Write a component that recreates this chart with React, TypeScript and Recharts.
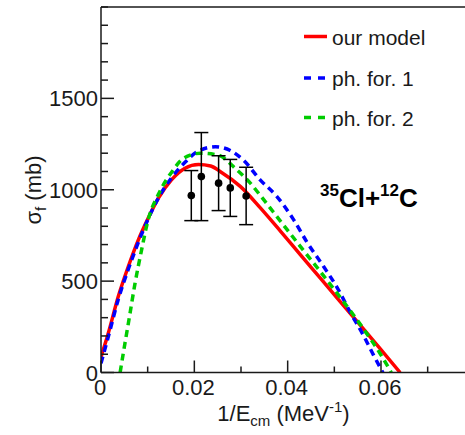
import React from 'react';
import { ComposedChart, Line, Scatter, XAxis, YAxis, ErrorBar, ReferenceLine } from 'recharts';

// ---- data ----
const modelX = [0, 0.00156, 0.0037, 0.00585, 0.008, 0.0101, 0.0123, 0.0151, 0.018, 0.0209, 0.0235, 0.0256, 0.0299, 0.0341, 0.0384, 0.0427, 0.047, 0.0513, 0.0556, 0.0599, 0.0641];
const modelY = [85, 215, 416, 580, 726, 844, 954, 1054, 1118, 1138, 1130, 1099, 1017, 902, 775, 645, 516, 387, 258, 128, 0];

const ph1X = [0, 0.00156, 0.0037, 0.00585, 0.008, 0.0101, 0.0123, 0.0151, 0.018, 0.0209, 0.0245, 0.0277, 0.0306, 0.0341, 0.0377, 0.0413, 0.0441, 0.0477, 0.0506, 0.0534, 0.0563, 0.0584, 0.0604];
const ph1Y = [50, 195, 400, 565, 712, 840, 955, 1065, 1150, 1212, 1235, 1215, 1160, 1054, 963, 835, 715, 580, 465, 330, 200, 95, 0];

const ph2X = [0.0041, 0.005, 0.006, 0.0073, 0.0087, 0.0101, 0.0123, 0.0151, 0.0177, 0.0213, 0.0249, 0.0291, 0.032, 0.0341, 0.0384, 0.0427, 0.047, 0.0513, 0.0556, 0.0599, 0.0622];
const ph2Y = [0, 140, 290, 489, 671, 835, 975, 1095, 1172, 1200, 1191, 1109, 1036, 970, 830, 690, 552, 410, 262, 100, 0];

const expX = [0.01935, 0.0215, 0.0252, 0.0277, 0.0311];
const expY = [968, 1072, 1036, 1010, 966];
const expErr = [137, 241, 150, 156, 157];

const xTicks = [0, 0.01, 0.02, 0.03, 0.04, 0.05, 0.06, 0.07];
const xTickLabels = ['0', '', '0.02', '', '0.04', '', '0.06', ''];
const yTicks = [0, 100, 200, 300, 400, 500, 600, 700, 800, 900, 1000, 1100, 1200, 1300, 1400, 1500, 1600, 1700, 1800, 1900, 2000];
const yTickLabels = ['0', '', '', '', '', '500', '', '', '', '', '1000', '', '', '', '', '1500', '', '', '', '', ''];

const legendItems = ['our model', 'ph. for. 1', 'ph. for. 2'];

const modelData = modelX.map((x, i) => ({ x, y: modelY[i] }));
const ph1Data = ph1X.map((x, i) => ({ x, y: ph1Y[i] }));
const ph2Data = ph2X.map((x, i) => ({ x, y: ph2Y[i] }));
const expData = expX.map((x, i) => ({ x, y: expY[i], err: expErr[i] }));

const FONT = '"Liberation Sans", Arial, Helvetica, sans-serif';
const INK = '#1a1a1a';

const XTick = (props: any) => {
  const { x, y, payload } = props;
  const idx = xTicks.findIndex((t) => Math.abs(t - payload.value) < 1e-9);
  const label = idx >= 0 ? xTickLabels[idx] : '';
  const major = label !== '';
  return (
    <g>
      <line x1={x} x2={x} y1={y} y2={y - (major ? 12 : 6)} stroke={INK} strokeWidth={1.5} />
      {major && (
        <text x={x - 1} y={y + 22} textAnchor="middle" fontSize={22} fontFamily={FONT} fill={INK}>
          {label}
        </text>
      )}
    </g>
  );
};

const YTick = (props: any) => {
  const { x, y, payload } = props;
  const idx = yTicks.findIndex((t) => Math.abs(t - payload.value) < 1e-9);
  const label = idx >= 0 ? yTickLabels[idx] : '';
  const major = label !== '';
  return (
    <g>
      <line x1={x} x2={x + (major ? 13 : 7)} y1={y} y2={y} stroke={INK} strokeWidth={1.5} />
      {major && (
        <text x={x - 3} y={y + 8} textAnchor="end" fontSize={22} fontFamily={FONT} fill={INK}>
          {label}
        </text>
      )}
    </g>
  );
};

const Dot = (p: any) => <circle cx={p.cx} cy={p.cy} r={3.8} fill="#000" />;

export default function App() {
  const colors = ['#ff0000', '#0000ff', '#00cc00'];
  const rowY = [36.5, 78, 117.5];
  return (
    <div style={{ position: 'absolute', left: 0, top: 0, width: 465, height: 435, background: '#fff', overflow: 'hidden' }}>
      <ComposedChart width={465} height={435} margin={{ top: 7, right: 0, bottom: 0, left: 0 }}>
        <XAxis
          type="number"
          dataKey="x"
          domain={[0, 0.078]}
          allowDataOverflow
          ticks={xTicks}
          interval={0}
          height={62.5}
          tickSize={0}
          tickMargin={0}
          tickLine={false}
          tick={<XTick />}
          axisLine={{ stroke: INK, strokeWidth: 1.5 }}
        />
        <YAxis
          type="number"
          dataKey="y"
          domain={[0, 2000]}
          allowDataOverflow
          ticks={yTicks}
          interval={0}
          width={101}
          tickSize={0}
          tickMargin={0}
          tickLine={false}
          tick={<YTick />}
          axisLine={{ stroke: INK, strokeWidth: 1.5 }}
        />
        <ReferenceLine y={2000} stroke={INK} strokeWidth={1.5} />
        <Line data={modelData} dataKey="y" type="monotone" stroke={colors[0]} strokeWidth={3.5} dot={false} activeDot={false} isAnimationActive={false} />
        <Line data={ph1Data} dataKey="y" type="monotone" stroke={colors[1]} strokeWidth={3.5} strokeDasharray="7 5" dot={false} activeDot={false} isAnimationActive={false} />
        <Line data={ph2Data} dataKey="y" type="monotone" stroke={colors[2]} strokeWidth={3.5} strokeDasharray="7 5" dot={false} activeDot={false} isAnimationActive={false} />
        <Scatter data={expData} dataKey="y" shape={<Dot />} isAnimationActive={false}>
          <ErrorBar dataKey="err" direction="y" width={7} stroke="#000" strokeWidth={1.5} />
        </Scatter>
      </ComposedChart>
      <svg width={465} height={435} style={{ position: 'absolute', left: 0, top: 0, pointerEvents: 'none' }} fontFamily={FONT}>
        {legendItems.map((name, i) => (
          <g key={name}>
            <line
              x1={304}
              x2={327}
              y1={rowY[i]}
              y2={rowY[i]}
              stroke={colors[i]}
              strokeWidth={3.5}
              strokeDasharray={i === 0 ? undefined : '7 7'}
            />
            <text x={332} y={rowY[i] + 8} fontSize={21} fill={INK}>
              {name}
            </text>
          </g>
        ))}
        <text x={320} y={207} fontSize={26} fontWeight="bold" fill="#000">
          <tspan fontSize={17} dy={-11}>35</tspan>
          <tspan dy={11}>Cl+</tspan>
          <tspan fontSize={17} dy={-11}>12</tspan>
          <tspan dy={11}>C</tspan>
        </text>
        <text x={283.5} y={421} textAnchor="middle" fontSize={22} fill={INK}>
          1/E<tspan fontSize={15} dy={5}>cm</tspan>
          <tspan dy={-5}> (MeV</tspan>
          <tspan fontSize={15} dy={-9}>-1</tspan>
          <tspan dy={9}>)</tspan>
        </text>
        <text transform="translate(41,190) rotate(-90)" textAnchor="middle" fontSize={22} fill={INK}>
          σ<tspan fontSize={15} dy={5}>f</tspan>
          <tspan dy={-5}> (mb)</tspan>
        </text>
      </svg>
    </div>
  );
}
